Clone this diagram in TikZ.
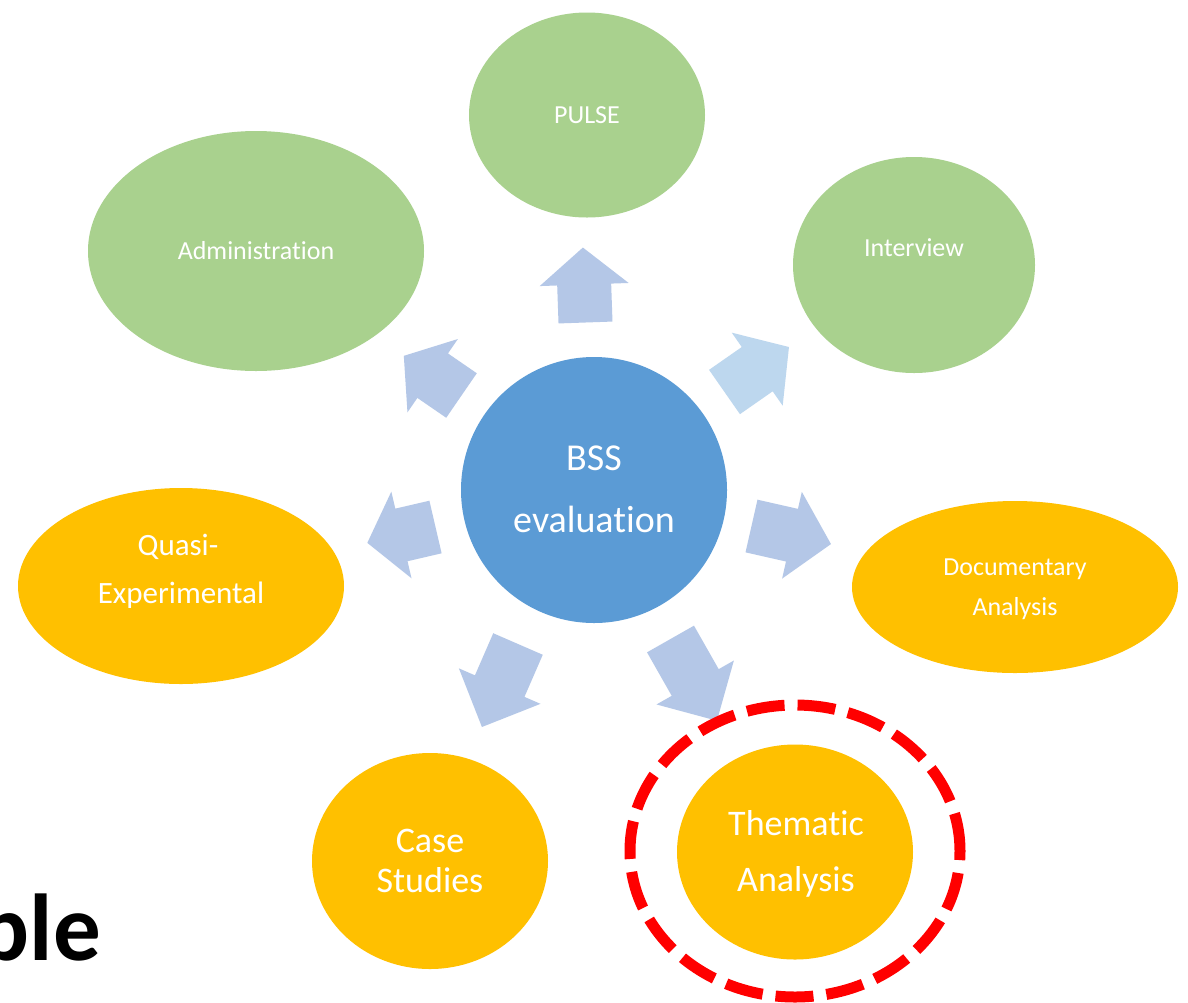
\documentclass[tikz,border=0pt]{standalone}
\usepackage{fontspec}
\setmainfont{Carlito}[Ligatures=NoCommon]
\usetikzlibrary{shapes.geometric}
\definecolor{grn}{HTML}{A9D18E}
\definecolor{org}{HTML}{FFC000}
\definecolor{ctr}{HTML}{5B9BD5}
\definecolor{arr}{HTML}{B4C7E7}
\definecolor{arrlt}{HTML}{BDD7EE}
\definecolor{redc}{HTML}{FF0000}
\newcommand\blockarr[6]{%
  \begin{scope}[shift={(#2,#3)}, rotate=#4]
    \fill[#6] (0,-27) -- ({#5-#1},-27) -- ({#5-#1},-44.5) -- (#5,0)
      -- ({#5-#1},44.5) -- ({#5-#1},27) -- (0,27) -- cycle;
  \end{scope}}
\tikzset{
  ell/.style={ellipse, draw=none, inner sep=0pt},
  greenell/.style={ell, fill=grn},
  orangeell/.style={ell, fill=org},
  txt/.style={text=white, inner sep=0pt, anchor=base},
  fsmall/.style={font=\fontsize{26}{26}\selectfont},
  fquasi/.style={font=\fontsize{31}{31}\selectfont},
  fmid/.style={font=\fontsize{36}{36}\selectfont},
  fbig/.style={font=\fontsize{38}{38}\selectfont},
  highlight/.style={draw=redc, line width=11pt, dash pattern=on 38pt off 13pt},
}
\begin{document}
\begin{tikzpicture}[x=1pt, y=-1pt]
\useasboundingbox[fill=white] (0,0) rectangle (1188,1002);

% outer nodes
\node[greenell, minimum width=236, minimum height=205] (pulse) at (587,115) {};
\node[greenell, minimum width=336, minimum height=240] (admin) at (256,251) {};
\node[greenell, minimum width=242, minimum height=216] (interview) at (914,265) {};
\node[orangeell, minimum width=326, minimum height=196] (quasi) at (181,586) {};
\node[orangeell, minimum width=326, minimum height=172] (docu) at (1015,587) {};
\node[orangeell, minimum width=236, minimum height=216] (cases) at (430,861) {};
\node[orangeell, minimum width=236, minimum height=215] (thema) at (795,852) {};
\node[circle, fill=ctr, draw=none, minimum size=266, inner sep=0pt] (bss) at (594,490) {};

% texts
\node[txt, fsmall] (tpulse) at (587,123) {PULSE};
\node[txt, fsmall] (tadmin) at (256,259) {Administration};
\node[txt, fsmall] (tinter) at (914,256) {Interview};
\node[txt, fbig] (tbss1) at (594,470) {BSS};
\node[txt, fbig] (tbss2) at (594,532) {evaluation};
\node[txt, fquasi] (tq1) at (178,555) {Quasi-};
\node[txt, fquasi] (tq2) at (181,603) {Experimental};
\node[txt, fsmall] (td1) at (1015,575) {Documentary};
\node[txt, fsmall] (td2) at (1015,615) {Analysis};
\node[txt, fmid] (tc1) at (430,852) {Case};
\node[txt, fmid] (tc2) at (430,892) {Studies};
\node[txt, fmid] (tt1) at (796,835) {Thematic};
\node[txt, fmid] (tt2) at (796,891) {Analysis};

% block arrows: head length, tail x, tail y, angle, length, colour
\blockarr{37}{585.5}{322.5}{92}{75}{arr}
\blockarr{35}{461.5}{395.5}{145.5}{70}{arr}
\blockarr{38.7}{724.5}{392}{34.9}{78.6}{arrlt}
\blockarr{35}{435.5}{527}{193.1}{70}{arr}
\blockarr{40}{751.5}{526}{-12.8}{81.5}{arr}
\blockarr{44.6}{518}{644}{246.5}{90.5}{arr}
\blockarr{44}{670.5}{639}{-60.4}{94}{arr}

% highlight ring
\node[ellipse, highlight, minimum width=330, minimum height=292, inner sep=0pt] (ring) at (795,851) {};

% cut-off title text (as in the reference, cut at the left edge)
\node[anchor=base east, inner sep=0pt, font=\bfseries\fontsize{95}{95}\selectfont] (ple) at (101,960) {ple};
\end{tikzpicture}
\end{document}
